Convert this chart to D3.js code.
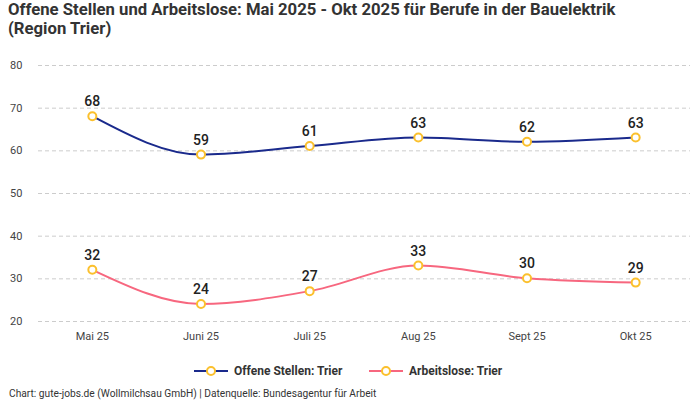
<!DOCTYPE html>
<html><head><meta charset="utf-8">
<script src="https://cdn.jsdelivr.net/npm/d3@7"></script>
<style>body{margin:0;background:#fff;} svg{display:block;font-family:Roboto,"Noto Sans",sans-serif;}</style>
</head><body>
<svg id="c" width="700" height="400"></svg>
<script>
const categories = ["Mai 25","Juni 25","Juli 25","Aug 25","Sept 25","Okt 25"];
const offeneStellen = [68,59,61,63,62,63];
const arbeitslose = [32,24,27,33,30,29];
const yTicks = [20,30,40,50,60,70,80];
const seriesNames = ["Offene Stellen: Trier","Arbeitslose: Trier"];
const seriesColors = ["#1a2a8c","#f7677f"];

const svg = d3.select("#c");
const x = d3.scaleBand().domain(categories).range([38,690]).padding(0);
const y = d3.scaleLinear().domain([20,80]).range([321,65]);

svg.append("text").attr("x",8).attr("y",15).attr("font-size",16.7).attr("font-weight","bold").attr("fill","#333")
  .text("Offene Stellen und Arbeitslose: Mai 2025 - Okt 2025 für Berufe in der Bauelektrik");
svg.append("text").attr("x",8).attr("y",34).attr("font-size",16.7).attr("font-weight","bold").attr("fill","#333")
  .text("(Region Trier)");

const yAxis = d3.axisLeft(y).tickValues(yTicks).tickSize(-652).tickPadding(0);
const ga = svg.append("g").attr("transform","translate(38,0)").call(yAxis);
ga.select(".domain").remove();
ga.selectAll(".tick line").attr("stroke","#ccc").attr("stroke-dasharray","4,3");
ga.selectAll(".tick text").attr("x",-28).attr("text-anchor","start").attr("font-size",11).attr("fill","#444").attr("font-family","Roboto, sans-serif");

const xAxis = d3.axisBottom(x).tickSize(0).tickPadding(0);
const gx = svg.append("g").attr("transform","translate(0,336)").call(xAxis);
gx.select(".domain").remove();
gx.selectAll(".tick text").attr("dy","0.35em").attr("font-size",11).attr("fill","#444").attr("font-family","Roboto, sans-serif");

const cx = d => x(d) + x.bandwidth()/2;
const line = d3.line().x((d,i)=>cx(categories[i])).y(d=>y(d)).curve(d3.curveMonotoneX);

[offeneStellen, arbeitslose].forEach((vals,si)=>{
  const g = svg.append("g");
  g.append("path").datum(vals).attr("d",line).attr("fill","none").attr("stroke",seriesColors[si]).attr("stroke-width",2);
  g.selectAll("circle").data(vals).join("circle")
    .attr("cx",(d,i)=>cx(categories[i])).attr("cy",d=>y(d)).attr("r",4)
    .attr("fill","#fff").attr("stroke","#fbc02d").attr("stroke-width",2);
  g.selectAll("text").data(vals).join("text")
    .attr("x",(d,i)=>cx(categories[i])).attr("y",d=>y(d)-10)
    .attr("text-anchor","middle").attr("font-size",14).attr("font-weight",500).attr("fill","#222")
    .text(d=>d);
});

const legX = [194,369];
seriesNames.forEach((n,i)=>{
  const g = svg.append("g").attr("transform",`translate(${legX[i]},371)`);
  g.append("line").attr("x1",0).attr("x2",34).attr("stroke",seriesColors[i]).attr("stroke-width",2);
  g.append("circle").attr("cx",17).attr("r",4).attr("fill","#fff").attr("stroke","#fbc02d").attr("stroke-width",2);
  g.append("text").attr("x",40).attr("dy","0.35em").attr("font-size",12).attr("font-weight","bold").attr("fill","#333").text(n);
});

svg.append("text").attr("x",9).attr("y",397).attr("font-size",10.2).attr("fill","#333")
  .text("Chart: gute-jobs.de (Wollmilchsau GmbH) | Datenquelle: Bundesagentur für Arbeit");
</script>
</body></html>
